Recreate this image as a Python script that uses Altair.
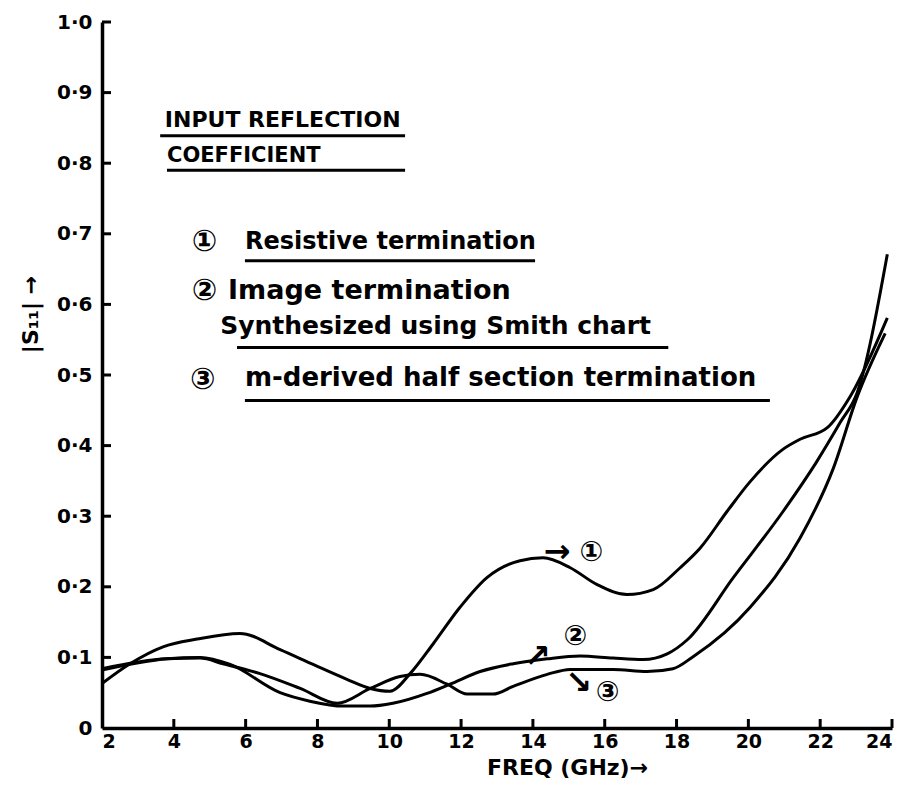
import altair as alt
import pandas as pd

# ---- data ----
freq_1 = [2.0, 2.78, 3.70, 4.65, 5.84, 6.96, 7.88, 8.82, 9.47, 10.02, 10.58, 11.22, 11.97,
          12.72, 13.64, 14.28, 15.04, 15.79, 16.62, 17.35, 18.10, 18.66, 19.41, 20.05,
          20.97, 21.44, 22.19, 22.84, 23.87]
s11_1 = [0.063, 0.091, 0.115, 0.126, 0.134, 0.111, 0.090, 0.069, 0.056, 0.052, 0.077, 0.119,
         0.171, 0.213, 0.237, 0.241, 0.227, 0.203, 0.189, 0.196, 0.227, 0.255, 0.307, 0.349,
         0.395, 0.409, 0.425, 0.470, 0.581]

freq_2 = [2.0, 3.81, 4.73, 5.57, 6.96, 7.79, 8.71, 9.47, 10.1, 11.05, 11.69, 12.53, 13.45,
          14.4, 15.31, 16.23, 17.07, 17.74, 18.3, 19.58, 20.97, 21.9, 22.56, 23.03, 23.87]
s11_2 = [0.082, 0.098, 0.100, 0.090, 0.050, 0.038, 0.031, 0.031, 0.035, 0.049, 0.062, 0.080,
         0.091, 0.098, 0.102, 0.099, 0.097, 0.105, 0.125, 0.213, 0.307, 0.377, 0.433, 0.475,
         0.671]

freq_3 = [2.0, 3.81, 4.73, 5.37, 6.40, 7.52, 8.55, 9.47, 10.3, 10.86, 11.61, 12.17, 12.89,
          13.45, 14.4, 15.04, 16.23, 17.18, 17.9, 18.46, 20.05, 21.44, 22.36, 23.03, 23.81]
s11_3 = [0.084, 0.098, 0.099, 0.091, 0.077, 0.056, 0.035, 0.056, 0.073, 0.076, 0.062, 0.048,
         0.048, 0.059, 0.076, 0.083, 0.083, 0.080, 0.084, 0.101, 0.171, 0.269, 0.367, 0.469,
         0.559]

x_ticks = [2, 4, 6, 8, 10, 12, 14, 16, 18, 20, 22, 24]
y_ticks = [0.0, 0.1, 0.2, 0.3, 0.4, 0.5, 0.6, 0.7, 0.8, 0.9, 1.0]

# text notes
note_text = ["INPUT REFLECTION", "COEFFICIENT", "\u2460", "Resistive termination",
             "\u2461", "Image termination", "Synthesized using Smith chart",
             "\u2462", "m-derived half section termination",
             "\u2192", "\u2460", "\u2197", "\u2461", "\u2198", "\u2462"]
note_f = [3.75, 3.81, 4.50, 5.98, 4.50, 5.51, 5.29, 4.45, 5.98,
          14.30, 15.30, 13.75, 14.85, 14.90, 15.75]
note_v = [0.861, 0.810, 0.689, 0.689, 0.619, 0.619, 0.570, 0.493, 0.496,
          0.250, 0.248, 0.100, 0.129, 0.064, 0.049]
note_size = [22, 21, 30, 24, 30, 27, 25, 30, 26, 32, 28, 32, 28, 32, 28]

# underlines
ul_f1 = [3.62, 3.81, 5.98, 5.76, 5.98]
ul_f2 = [10.44, 10.44, 14.06, 17.77, 20.60]
ul_v = [0.839, 0.790, 0.662, 0.539, 0.464]

# ---- frames ----
curves = pd.concat([
    pd.DataFrame({"f": freq_1, "v": s11_1, "series": "1"}),
    pd.DataFrame({"f": freq_2, "v": s11_2, "series": "2"}),
    pd.DataFrame({"f": freq_3, "v": s11_3, "series": "3"}),
])
notes = pd.DataFrame({"f": note_f, "v": note_v, "t": note_text, "s": note_size})
underl = pd.DataFrame({"f": ul_f1, "f2": ul_f2, "v": ul_v})
yt = pd.DataFrame({"v": y_ticks[1:]})
xt = pd.DataFrame({"f": x_ticks[1:]})

FONT = "DejaVu Sans"
H = 706
xscale = alt.Scale(domain=[2, 24], nice=False, zero=False)
yscale = alt.Scale(domain=[0, 1], nice=False, zero=False)
xaxis = alt.Axis(values=x_ticks, format="d", title="FREQ (GHz)\u2192", titleX=465, titleY=29,
                 titleFontSize=22, titleFontWeight="bold", labelPadding=4, labelFontSize=19)
yaxis = alt.Axis(values=y_ticks, title="|S\u2081\u2081| \u2192", titleX=-72, titleY=292,
                 titleBaseline="middle",
                 titleFontSize=22, titleFontWeight="bold", labelPadding=10,
                 labelExpr="datum.value == 0 ? '0' : replace(format(datum.value, '.1f'), '.', '\u00b7')")

X = alt.X("f:Q", scale=xscale, axis=xaxis)
Y = alt.Y("v:Q", scale=yscale, axis=yaxis)

lines = alt.Chart(curves).mark_line(color="black", strokeWidth=3, interpolate="monotone").encode(
    x=X, y=Y, detail="series:N")

texts = alt.Chart(notes).mark_text(align="left", baseline="middle", font=FONT,
                                   fontWeight="bold", color="black").encode(
    x=X, y=Y, text="t:N", size=alt.Size("s:Q", scale=None, legend=None))

unders = alt.Chart(underl).mark_rule(color="black", strokeWidth=3).encode(
    x=X, x2="f2:Q", y=Y)

yticks = alt.Chart(yt).mark_rule(color="black", strokeWidth=3).encode(
    y=Y, x=alt.value(0), x2=alt.value(9))
xticks = alt.Chart(xt).mark_rule(color="black", strokeWidth=3).encode(
    x=X, y=alt.value(H), y2=alt.value(H - 9))

chart = alt.layer(lines, unders, texts, yticks, xticks).properties(
    width=790, height=H,
    autosize=alt.AutoSizeParams(type="none"),
    padding={"left": 94, "top": 14, "right": 16, "bottom": 56},
).configure_view(stroke=None).configure_axis(
    domainColor="black", domainWidth=3.5, grid=False, ticks=False,
    labelFont=FONT, labelFontSize=20, labelFontWeight="bold", labelColor="black",
    titleFont=FONT, titleColor="black",
)

chart.save("out.html", embed_options={"renderer": "svg", "actions": False})
